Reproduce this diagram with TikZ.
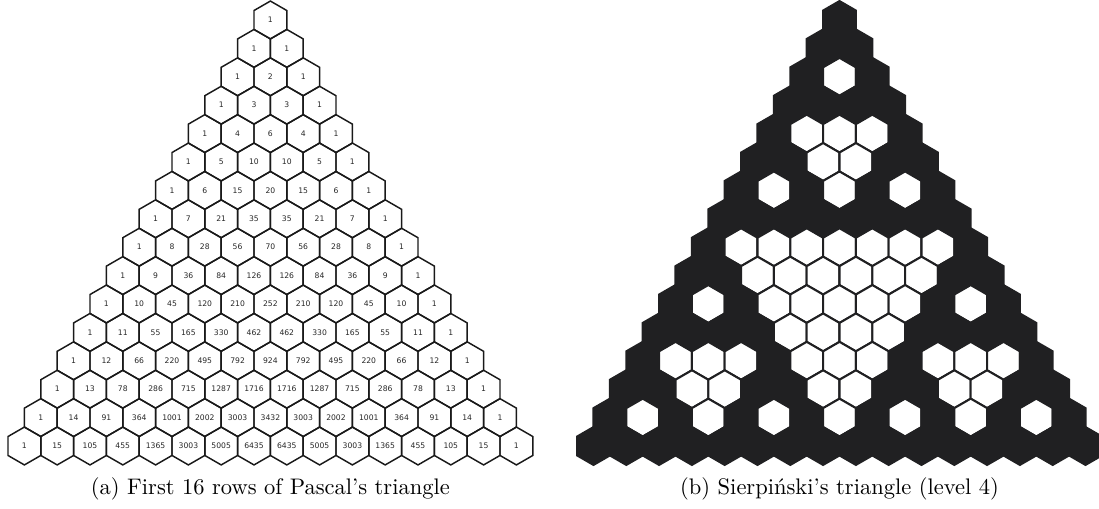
\documentclass[tikz,border=0pt]{standalone}
\usepackage{fontspec}
\newfontfamily\cellfont{DejaVu Sans}
\usetikzlibrary{shapes.geometric}
\definecolor{sierfill}{HTML}{202022}

\begin{document}
\begin{tikzpicture}[x=0.4444pt, y=-0.4444pt, line join=miter,
  hexcell/.style={regular polygon, regular polygon sides=6, shape border rotate=30,
    minimum size=16.83pt, inner sep=0pt, outer sep=0pt},
  pascell/.style={hexcell, draw=black!90, line width=0.65pt,
    font=\cellfont\fontsize{3.4}{4}\selectfont, text=black!85},
  oddcell/.style={hexcell, fill=sierfill, draw=sierfill, line width=0.9pt},
  evencell/.style={hexcell, fill=white, draw=sierfill, line width=0.9pt},
  subcap/.style={anchor=base, font=\normalsize}]
  \def\hw{32.8}
  \def\rs{28.4}
  \def\xa{270.4}
  \def\xb{839.5}
  \def\yt{20}
  \useasboundingbox (0,0) rectangle (1099,509);
  % row n, entry k; odd entries are filled on the right
  \foreach \n in {0,...,15} {
    \xdef\pval{1}
    \foreach \k in {0,...,\n} {
      \ifnum\k>0 \xdef\pval{\the\numexpr\pval*(\n-\k+1)/\k\relax}\fi
      \node[pascell] (p-\n-\k) at ({\xa+(\k-\n/2)*\hw},{\yt+\n*\rs}) {\pval};
      \ifodd\pval
        \node[oddcell] (s-\n-\k) at ({\xb+(\k-\n/2)*\hw},{\yt+\n*\rs}) {};
      \else
        \node[evencell] (s-\n-\k) at ({\xb+(\k-\n/2)*\hw},{\yt+\n*\rs}) {};
      \fi
    }
  }
  \node[subcap] (cap-a) at (\xa,495) {(a) First 16 rows of Pascal's triangle};
  \node[subcap] (cap-b) at (\xb,495) {(b) Sierpiński's triangle (level 4)};
\end{tikzpicture}
\end{document}
